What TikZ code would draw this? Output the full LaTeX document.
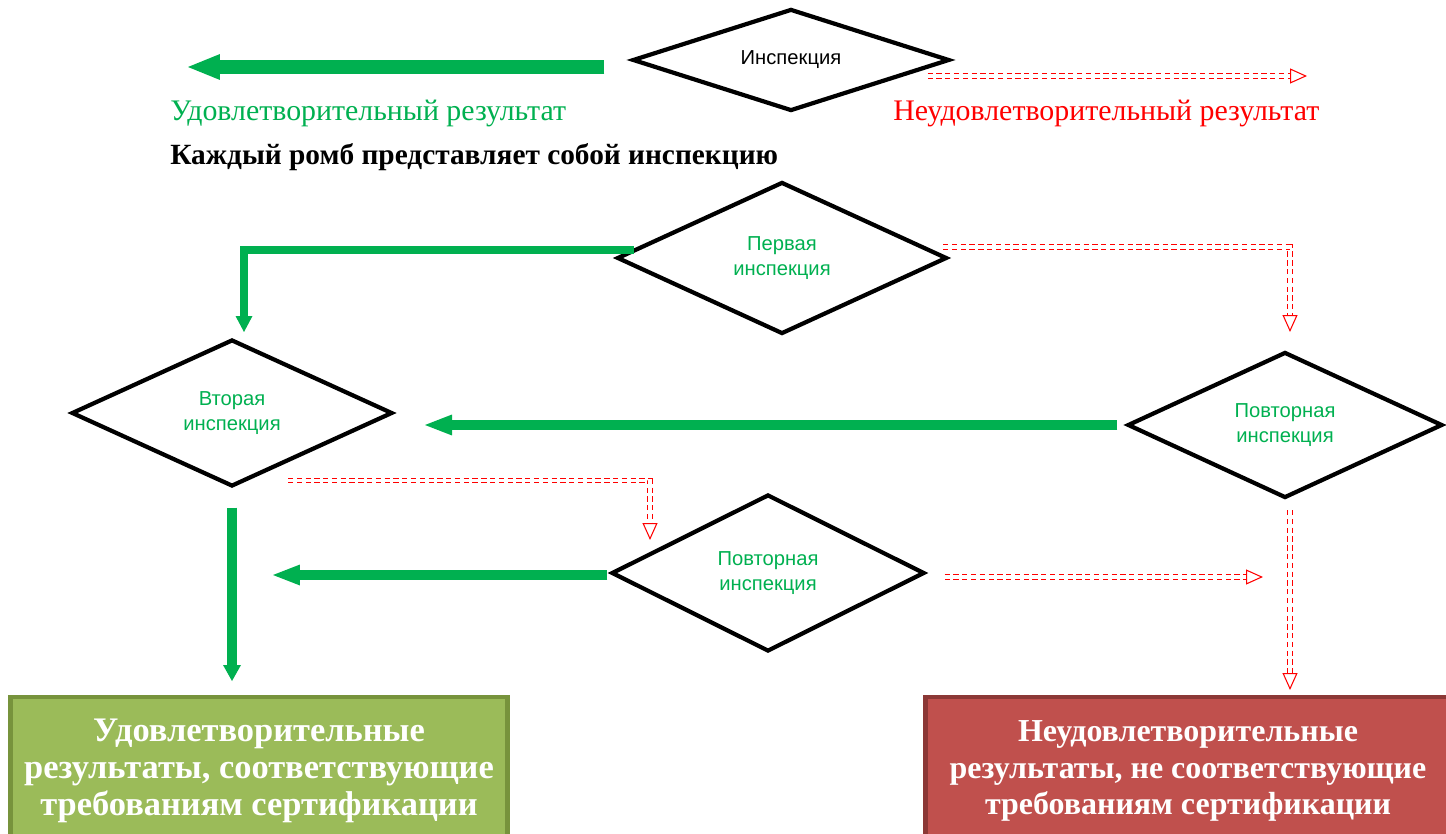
\documentclass[tikz,border=0pt]{standalone}
\usepackage{fontspec}
\setmainfont{Liberation Serif}
\setsansfont{Liberation Sans}
\usetikzlibrary{shapes.geometric, arrows.meta, calc}
\definecolor{okgreen}{HTML}{00B050}
\definecolor{okfill}{HTML}{9BBB59}
\definecolor{okframe}{HTML}{77933C}
\definecolor{failfill}{HTML}{C0504D}
\definecolor{failframe}{HTML}{8C3836}
\begin{document}
\begin{tikzpicture}[x=0.02cm, y=-0.02cm,
  inspbox/.style={diamond, draw=black, line width=2.4pt, inner sep=0pt, aspect=2, align=center, text=okgreen, font=\sffamily\fontsize{11.5}{14.5}\selectfont},
  okline/.style={draw=okgreen, line width=#1},
  failline/.style={draw=red, densely dashed, line width=0.6pt, double=white, double distance=2pt, -{Triangle[open, length=0.34cm, width=0.3cm]}},
  resbox/.style={draw=#1frame, fill=#1fill, line width=2.8pt, minimum height=2.96cm, align=center, text=white}]
\useasboundingbox (0,0) rectangle (1446,834);

\node[inspbox, minimum width=6.34cm, minimum height=2.04cm, text=black] (insp) at (791,60) {Инспекция};
\node[inspbox, minimum width=6.6cm, minimum height=3.04cm] (first) at (782,258) {Первая\\инспекция};
\node[inspbox, minimum width=6.42cm, minimum height=2.94cm] (second) at (232,413) {Вторая\\инспекция};
\node[inspbox, minimum width=6.3cm, minimum height=2.92cm] (retryR) at (1285,425) {Повторная\\инспекция};
\node[inspbox, minimum width=6.26cm, minimum height=3.14cm] (retryB) at (768,573) {Повторная\\инспекция};

\node[anchor=west, inner sep=0pt, text=okgreen, font=\fontsize{17}{20}\selectfont] (okText) at (170,114) {Удовлетворительный результат};
\node[anchor=west, inner sep=0pt, text=red, font=\fontsize{17}{20}\selectfont] (failText) at (893,114) {Неудовлетворительный результат};
\node[anchor=west, inner sep=0pt, font=\bfseries\fontsize{16.7}{20}\selectfont] (note) at (170,157) {Каждый ромб представляет собой инспекцию};

\node[resbox=ok, minimum width=9.96cm, font=\bfseries\fontsize{19.6}{21}\selectfont] (okRes) at (259,771) {Удовлетворительные\\результаты, соответствующие\\требованиям сертификации};
\node[resbox=fail, minimum width=10.5cm, font=\bfseries\fontsize{18.2}{21}\selectfont] (failRes) at (1188,771) {Неудовлетворительные\\результаты, не соответствующие\\требованиям сертификации};

\coordinate (okTop) at (188,67);
\coordinate (okTurn) at (244,332);
\coordinate (okMid) at (425,425);
\coordinate (okLow) at (273,575);
\coordinate (okDown) at (232,681);
\coordinate (failTop) at (1307,76);
\coordinate (failTurn) at (1290,332);
\coordinate (failTurnB) at (650,540);
\coordinate (failLow) at (1263,577);
\coordinate (failDown) at (1290,690);

\draw[okline=7.9pt, -{Triangle[length=0.64cm, width=0.52cm, line width=0pt]}] ($(insp.west)+(-26,7)$) -- (okTop);
\draw[okline=4.5pt, -{Triangle[length=0.32cm, width=0.34cm, line width=0pt]}] ($(first.west)+(19,-8)$) -| (okTurn);
\draw[okline=5.5pt, -{Triangle[length=0.54cm, width=0.42cm, line width=0pt]}] ($(retryR.west)+(-8,0)$) -- (okMid);
\draw[okline=5.5pt, -{Triangle[length=0.54cm, width=0.42cm, line width=0pt]}] ($(retryB.west)+(-2,2)$) -- (okLow);
\draw[okline=5.5pt, -{Triangle[length=0.32cm, width=0.36cm, line width=0pt]}] ($(second.south)+(0,19)$) -- (okDown);

\draw[failline] ($(insp.east)+(-24,16)$) -- (failTop);
\draw[failline] ($(first.east)+(-6,-11)$) -| (failTurn);
\draw[failline] ($(second.south)+(56,-8)$) -| (failTurnB);
\draw[failline] ($(retryB.east)+(18,4)$) -- (failLow);
\draw[failline] ($(retryR.south)+(5,10)$) -- (failDown);
\end{tikzpicture}
\end{document}
